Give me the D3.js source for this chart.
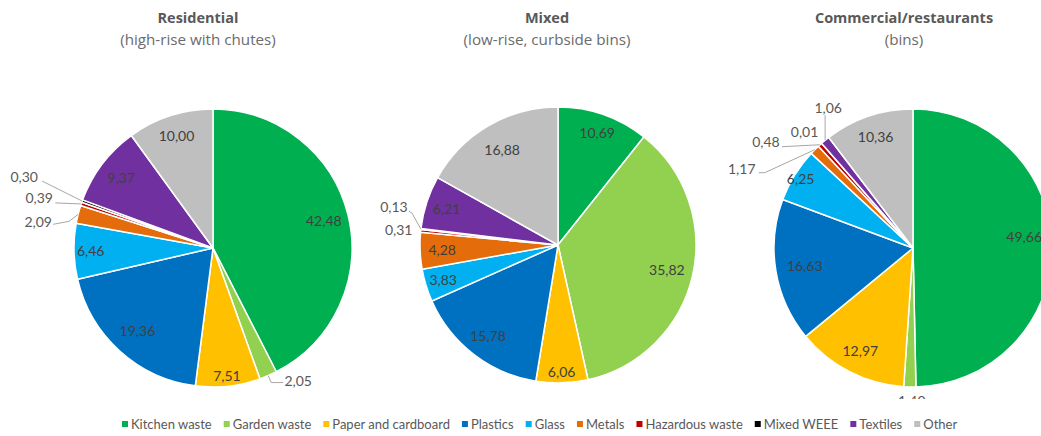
<!DOCTYPE html>
<html>
<head>
<meta charset="utf-8">
<script src="https://cdn.jsdelivr.net/npm/d3@7/dist/d3.min.js"></script>
<style>
  html, body { margin: 0; padding: 0; background: #fff; }
  svg { display: block; font-family: Lato, "Open Sans", sans-serif; }
</style>
</head>
<body>
<svg id="chart" width="1041" height="436"></svg>
<script>
// Waste composition (%) by collection type
const categories = ["Kitchen waste", "Garden waste", "Paper and cardboard", "Plastics", "Glass",
                    "Metals", "Hazardous waste", "Mixed WEEE", "Textiles", "Other"];
const residential = [42.48, 2.05, 7.51, 19.36, 6.46, 2.09, 0.39, 0.30, 9.37, 10.00];
const mixed       = [10.69, 35.82, 6.06, 15.78, 3.83, 4.28, 0.31, 0.13, 6.21, 16.88];
const commercial  = [49.66, 1.40, 12.97, 16.63, 6.25, 1.17, 0.48, 0.01, 1.06, 10.36];
const titles    = ["Residential", "Mixed", "Commercial/restaurants"];
const subtitles = ["(high-rise with chutes)", "(low-rise, curbside bins)", "(bins)"];

const colors = ["#00B050", "#92D050", "#FFC000", "#0070C0", "#00B0F0",
                "#E46C0A", "#C00000", "#000000", "#7030A0", "#BFBFBF"];

// Layout of each pie: centre, radius, title position, label placement.
// inside: slice index -> [radius fraction, dx, dy]
// outside: slice index -> {off: label offset from slice edge, lead: leader points relative to label}
const layout = [
  { cx: 213, cy: 248, r: 139, tx: 198, clipBottom: null,
    inside: {0: [0.82, 0, 0], 2: [0.93, 0, 0], 3: [0.81, 0, 0], 4: [0.88, 0, 0], 8: [0.83, 0, 0], 9: [0.85, 0, 0]},
    outside: {
      1: { off: [30, 6],   lead: [[-15, 1], [-27, 1]] },
      5: { off: [-40, 8],  lead: [[15, 2], [31, -1]] },
      6: { off: [-42, -6], lead: [[16, 5]] },
      7: { off: [-58, -24], lead: [[18, 4]] }
    } },
  { cx: 558, cy: 245, r: 138, tx: 547, clipBottom: null,
    inside: {0: [0.86, 0, 0], 1: [0.81, 0, 0], 2: [0.92, 0, 0], 3: [0.83, 0, 0], 4: [0.87, 0, 0],
             5: [0.84, 0, 0], 8: [0.85, 0, 0], 9: [0.80, 0, 0]},
    outside: {
      6: { off: [-22, -1], lead: [] },
      7: { off: [-27, -22], lead: [[15, 4], [18, 6]] }
    } },
  { cx: 913, cy: 248, r: 139, tx: 904, clipBottom: 399,
    inside: {0: [0.80, 0, -10], 2: [0.83, 0, 0], 3: [0.79, 0, 0], 4: [0.95, 0, 0], 9: [0.84, 0, 0]},
    outside: {
      1: { off: [2, 14], lead: [] },
      5: { off: [-73, 19], lead: [[17, 4], [23, 4]] },
      6: { off: [-54, -3], lead: [[16, 5]] },
      7: { off: [-17, -11], lead: [] },
      8: { off: [3, -32], lead: [[-3, 7]] }
    } }
];

const datasets = [residential, mixed, commercial];
const fmt = v => v.toFixed(2).replace(".", ",");

const svg = d3.select("#chart");
const defs = svg.append("defs");

const pie = d3.pie().sort(null).value(d => d.value);

datasets.forEach((values, k) => {
  const L = layout[k];
  const g = svg.append("g");

  // titles
  g.append("text")
    .attr("x", L.tx).attr("y", 23)
    .attr("text-anchor", "middle")
    .attr("font-family", "'Open Sans', sans-serif")
    .attr("font-size", 14.5).attr("font-weight", 700)
    .attr("fill", "#595959")
    .text(titles[k]);
  g.append("text")
    .attr("x", L.tx).attr("y", 45)
    .attr("text-anchor", "middle")
    .attr("font-family", "'Open Sans', sans-serif")
    .attr("font-size", 15.2)
    .attr("fill", "#6b6b6b")
    .text(subtitles[k]);

  const plot = g.append("g");
  if (L.clipBottom !== null) {
    const id = "clip" + k;
    defs.append("clipPath").attr("id", id)
      .append("rect").attr("x", 0).attr("y", 0).attr("width", 1041).attr("height", L.clipBottom);
    plot.attr("clip-path", `url(#${id})`);
  }
  const p = plot.append("g").attr("transform", `translate(${L.cx},${L.cy})`);

  const arcs = pie(values.map((v, i) => ({ value: v, i })));
  const arc = d3.arc().innerRadius(0).outerRadius(L.r);

  p.selectAll("path.slice")
    .data(arcs)
    .join("path")
    .attr("class", "slice")
    .attr("d", arc)
    .attr("fill", d => colors[d.data.i])
    .attr("stroke", "#fff")
    .attr("stroke-width", 1.5)
    .attr("stroke-linejoin", "round");

  // inside labels
  arcs.forEach(d => {
    const spec = L.inside[d.data.i];
    if (!spec) return;
    const a = (d.startAngle + d.endAngle) / 2;
    const rr = L.r * spec[0];
    p.append("text")
      .attr("x", Math.sin(a) * rr + spec[1])
      .attr("y", -Math.cos(a) * rr + spec[2])
      .attr("dy", "0.35em")
      .attr("text-anchor", "middle")
      .attr("font-size", 14)
      .attr("fill", "#404040")
      .text(fmt(d.data.value));
  });

  // outside labels with leader lines
  arcs.forEach(d => {
    const spec = L.outside[d.data.i];
    if (!spec) return;
    const a = (d.startAngle + d.endAngle) / 2;
    const ex = Math.sin(a) * L.r, ey = -Math.cos(a) * L.r;
    const lx = ex + spec.off[0], ly = ey + spec.off[1];
    if (spec.lead.length) {
      const pts = spec.lead.map(q => [lx + q[0], ly + q[1]]).concat([[ex, ey]]);
      p.append("path")
        .attr("d", d3.line()(pts))
        .attr("fill", "none")
        .attr("stroke", "#a6a6a6")
        .attr("stroke-width", 1);
    }
    p.append("text")
      .attr("x", lx).attr("y", ly)
      .attr("dy", "0.35em")
      .attr("text-anchor", "middle")
      .attr("font-size", 14)
      .attr("fill", "#595959")
      .text(fmt(d.data.value));
  });
});

// legend
const legend = svg.append("g").attr("transform", "translate(0,424)");
let x = 0;
const items = legend.selectAll("g.item").data(categories).join("g").attr("class", "item");
items.each(function (c, i) {
  const it = d3.select(this);
  it.append("rect").attr("x", 0).attr("y", -3).attr("width", 6).attr("height", 6).attr("fill", colors[i]);
  const t = it.append("text").attr("x", 9).attr("y", 0).attr("dy", "0.35em")
    .attr("font-size", 13).attr("fill", "#595959").text(c);
  const w = 9 + t.node().getComputedTextLength();
  it.attr("transform", `translate(${x},0)`);
  x += w + 12;
});
const total = x - 12;
legend.attr("transform", `translate(${Math.round(540 - total / 2)},424)`);
</script>
</body>
</html>
